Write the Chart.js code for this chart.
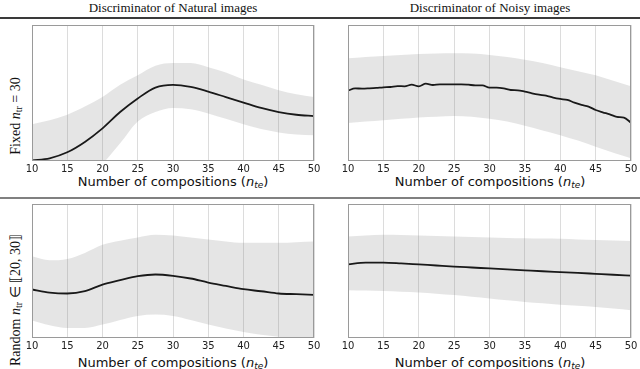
<!DOCTYPE html>
<html>
<head>
<meta charset="utf-8">
<script src="https://cdn.jsdelivr.net/npm/chart.js@4/dist/chart.umd.min.js"></script>
<style>
  body { margin: 0; background: #fff; }
  #page { position: relative; width: 640px; height: 369px; overflow: hidden; }
  .box { position: absolute; }
  .title { position: absolute; font-family: "Liberation Serif", serif; font-size: 13px; color: #111; transform: translate(-50%, -50%); white-space: nowrap; }
  .xlab { position: absolute; font-family: "DejaVu Sans", sans-serif; font-size: 13px; line-height: 15px; color: #111; transform: translate(-50%, -50%); white-space: nowrap; }
  .xlab sub { font-size: 9px; vertical-align: -2px; line-height: 0; }
  .rowlab { position: absolute; font-family: "Liberation Serif", serif; font-size: 14px; line-height: 16px; color: #111; white-space: nowrap; transform: translate(-50%, -50%) rotate(-90deg); }
  .rowlab sub { font-size: 10px; vertical-align: -2px; line-height: 0; }
  .sep { position: absolute; left: 0; width: 640px; height: 2px; }
</style>
</head>
<body>
<div id="page">
  <div class="title" style="left:173px; top:8px;">Discriminator of Natural images</div>
  <div class="title" style="left:490px; top:8px;">Discriminator of Noisy images</div>
  <div class="sep" style="top:17px; background:#3a3a3a;"></div>
  <div class="sep" style="top:197px; background:#808080;"></div>
  <div class="rowlab" style="left:16px; top:116px;">Fixed <i>n</i><sub>tr</sub> = 30</div>
  <div class="rowlab" style="left:16px; top:300px;">Random <i>n</i><sub>tr</sub> ∈ ⟦20, 30⟧</div>
  <div class="xlab" style="left:173px; top:181px;">Number of compositions (<i>n<sub>te</sub></i>)</div>
  <div class="xlab" style="left:490px; top:181px;">Number of compositions (<i>n<sub>te</sub></i>)</div>
  <div class="xlab" style="left:173px; top:362px;">Number of compositions (<i>n<sub>te</sub></i>)</div>
  <div class="xlab" style="left:490px; top:362px;">Number of compositions (<i>n<sub>te</sub></i>)</div>
</div>
<script>
// x positions (number of compositions)
const xSteps = [10, 12.5, 15, 17.5, 20, 22.5, 25, 27.5, 30, 32.5, 35, 37.5, 40, 42.5, 45, 47.5, 50];
const xInts = [];
for (let n = 10; n <= 50; n++) xInts.push(n);

// fixed n_tr = 30, natural discriminator
const fixNatMean  = [0.005, 0.02, 0.064, 0.14, 0.24, 0.36, 0.46, 0.54, 0.56, 0.545, 0.51, 0.47, 0.43, 0.39, 0.36, 0.34, 0.33];
const fixNatUpper = [0.27, 0.30, 0.34, 0.40, 0.47, 0.56, 0.63, 0.70, 0.72, 0.72, 0.69, 0.65, 0.60, 0.56, 0.52, 0.49, 0.47];
const fixNatLower = [-0.27, -0.25, -0.21, -0.12, -0.02, 0.13, 0.29, 0.36, 0.39, 0.38, 0.35, 0.31, 0.27, 0.235, 0.21, 0.195, 0.19];

// fixed n_tr = 30, noisy discriminator (mean read at every integer)
const fixNoisyMean = [0.517, 0.534, 0.532, 0.534, 0.537, 0.542, 0.544, 0.551, 0.549, 0.561, 0.549,
  0.569, 0.559, 0.564, 0.564, 0.564, 0.564, 0.561, 0.556, 0.556, 0.539,
  0.539, 0.534, 0.522, 0.520, 0.510, 0.498, 0.488, 0.480, 0.466, 0.456,
  0.449, 0.429, 0.412, 0.400, 0.375, 0.358, 0.343, 0.324, 0.319, 0.282];
const fixNoisyUpper = [0.755, 0.765, 0.772, 0.78, 0.787, 0.79, 0.792, 0.79, 0.78, 0.765, 0.745, 0.72, 0.69, 0.66, 0.63, 0.59, 0.55];
const fixNoisyLower = [0.28, 0.29, 0.30, 0.31, 0.32, 0.325, 0.33, 0.325, 0.31, 0.29, 0.26, 0.225, 0.19, 0.15, 0.105, 0.06, 0.02];

// random n_tr in [20, 30], natural discriminator
const rndNatMean  = [0.362, 0.339, 0.332, 0.349, 0.399, 0.431, 0.461, 0.474, 0.464, 0.444, 0.414, 0.389, 0.364, 0.349, 0.332, 0.327, 0.322];
const rndNatUpper = [0.61, 0.58, 0.59, 0.635, 0.695, 0.725, 0.75, 0.77, 0.765, 0.75, 0.735, 0.72, 0.71, 0.71, 0.71, 0.715, 0.72];
const rndNatLower = [0.13, 0.095, 0.075, 0.075, 0.10, 0.135, 0.165, 0.175, 0.165, 0.135, 0.10, 0.07, 0.045, 0.025, 0.01, -0.02, -0.04];

// random n_tr in [20, 30], noisy discriminator
const rndNoisyMean  = [0.55, 0.563, 0.563, 0.557, 0.549, 0.541, 0.533, 0.526, 0.519, 0.512, 0.505, 0.498, 0.492, 0.486, 0.479, 0.472, 0.466];
const rndNoisyUpper = [0.757, 0.765, 0.77, 0.768, 0.765, 0.761, 0.757, 0.754, 0.75, 0.747, 0.744, 0.742, 0.74, 0.735, 0.731, 0.727, 0.723];
const rndNoisyLower = [0.357, 0.354, 0.35, 0.345, 0.339, 0.33, 0.32, 0.307, 0.294, 0.281, 0.269, 0.259, 0.249, 0.24, 0.232, 0.22, 0.207];

const xTicks = [10, 15, 20, 25, 30, 35, 40, 45, 50];

function pts(xs, ys) {
    return xs.map((x, i) => ({ x: x, y: ys[i] }));
}

const frame = {
    id: 'frame',
    afterDraw(chart) {
        const a = chart.chartArea;
        const c = chart.ctx;
        c.save();
        c.strokeStyle = '#9a9a9a';
        c.lineWidth = 1;
        c.strokeRect(Math.round(a.left) + 0.5, Math.round(a.top) + 0.5, Math.round(a.right - a.left) - 1, Math.round(a.bottom - a.top) - 1);
        c.restore();
    }
};

const PAD = 12;
function makePanel(left, top, right, bottom, meanX, mean, upper, lower) {
    const box = document.createElement('div');
    box.className = 'box';
    box.style.left = (left - PAD) + 'px';
    box.style.top = (top - 2) + 'px';
    box.style.width = (right - left + 2 * PAD) + 'px';
    box.style.height = (bottom - top + 2 + 18) + 'px';
    const cv = document.createElement('canvas');
    box.appendChild(cv);
    document.getElementById('page').appendChild(box);

    new Chart(cv, {
        type: 'line',
        data: {
            datasets: [{
                data: pts(xSteps, lower),
                borderWidth: 0,
                pointRadius: 0,
                fill: false,
                cubicInterpolationMode: 'monotone'
            }, {
                data: pts(xSteps, upper),
                borderWidth: 0,
                pointRadius: 0,
                fill: '-1',
                backgroundColor: 'rgba(125,125,125,0.2)',
                cubicInterpolationMode: 'monotone'
            }, {
                data: pts(meanX, mean),
                borderColor: '#000',
                borderWidth: 1.8,
                pointRadius: 0,
                fill: false,
                cubicInterpolationMode: 'monotone'
            }]
        },
        options: {
            responsive: true,
            maintainAspectRatio: false,
            animation: false,
            layout: { padding: { left: PAD, right: PAD, top: 2, bottom: 0 } },
            plugins: { legend: { display: false }, tooltip: { enabled: false } },
            scales: {
                x: {
                    type: 'linear',
                    min: 10,
                    max: 50,
                    afterBuildTicks: (s) => { s.ticks = xTicks.map(v => ({ value: v })); },
                    afterFit: (s) => { s.height = 18; s.paddingLeft = 0; s.paddingRight = 0; },
                    ticks: {
                        maxRotation: 0,
                        autoSkip: false,
                        padding: 2,
                        color: '#222',
                        font: { family: 'DejaVu Sans', size: 10 }
                    },
                    grid: { color: '#dcdcdc', lineWidth: 1, drawTicks: false },
                    border: { display: false }
                },
                y: {
                    display: false,
                    min: 0,
                    max: 1
                }
            }
        },
        plugins: [frame]
    });
}

makePanel(32, 25, 314, 161, xSteps, fixNatMean, fixNatUpper, fixNatLower);
makePanel(348, 25, 631, 161, xInts, fixNoisyMean, fixNoisyUpper, fixNoisyLower);
makePanel(32, 204, 314, 338, xSteps, rndNatMean, rndNatUpper, rndNatLower);
makePanel(348, 204, 631, 338, xSteps, rndNoisyMean, rndNoisyUpper, rndNoisyLower);
</script>
</body>
</html>
